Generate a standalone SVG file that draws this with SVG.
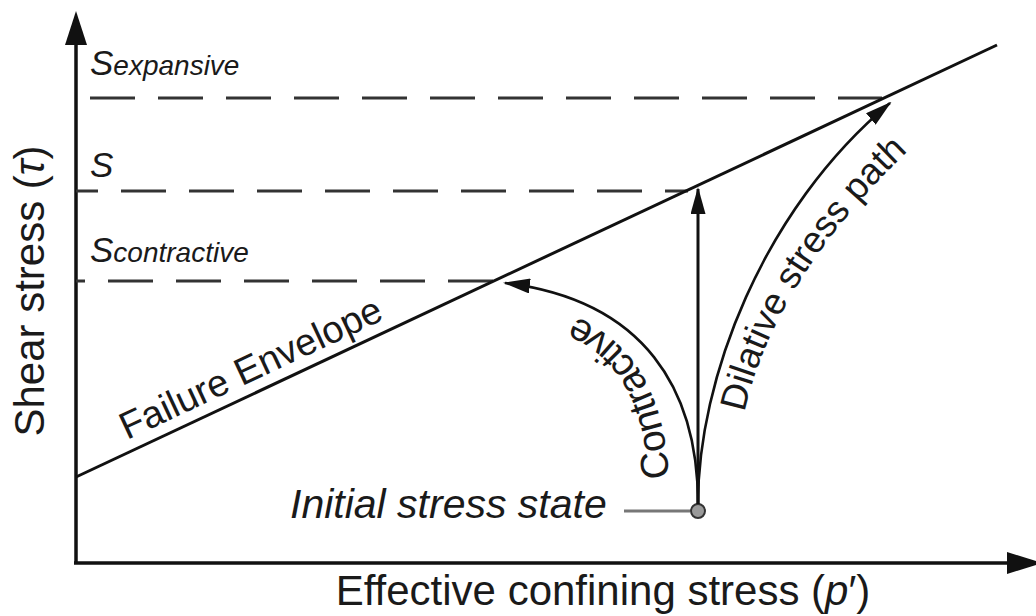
<svg xmlns="http://www.w3.org/2000/svg" width="1036" height="616" viewBox="0 0 1036 616">
<defs>
<style>
.t{font-family:"Liberation Sans",Arial,sans-serif;fill:#1a1a1a}
.it{font-style:italic}
.dash{stroke:#333;stroke-width:3;stroke-dasharray:45 23;fill:none}
.ln{stroke:#111;fill:none}
</style>
<marker id="ah" markerUnits="userSpaceOnUse" viewBox="0 0 27 15" refX="25" refY="7.5" markerWidth="27" markerHeight="15" orient="auto">
<path d="M0,0 L27,7.5 L0,15 z" fill="#111"/>
</marker>
<path id="pc" d="M670,500 C668,400 640,325 530,302"/>
<path id="pd" d="M740,440 C750,350 810,240 920,140"/>
</defs>
<rect width="1036" height="616" fill="#fff"/>
<g id="axes">
<line class="ln" x1="76" y1="40" x2="76" y2="563" stroke-width="3.5"/>
<line class="ln" x1="74" y1="563" x2="1010" y2="563" stroke-width="3.5"/>
<path d="M76,11 L87,45 L65,45 z" fill="#111"/>
<path d="M1042,563 L1007,552 L1007,574 z" fill="#111"/>
<text class="t" font-size="42" transform="translate(44,291) rotate(-90)" text-anchor="middle">Shear stress (<tspan class="it">τ</tspan>)</text>
<text class="t" font-size="42" x="603" y="605" text-anchor="middle">Effective confining stress (<tspan class="it">p</tspan>′)</text>
</g>
<g id="levels">
<line class="dash" x1="90" y1="98" x2="882" y2="98"/>
<line class="dash" x1="76" y1="191" x2="688" y2="191" stroke-dashoffset="23"/>
<line class="dash" x1="76" y1="281" x2="496" y2="281" stroke-dashoffset="36"/>
<text class="t it" x="90" y="75" font-size="35">S<tspan font-size="28">expansive</tspan></text>
<text class="t it" x="90" y="177" font-size="35">S</text>
<text class="t it" x="90" y="262" font-size="35">S<tspan font-size="28">contractive</tspan></text>
</g>
<g id="failure-envelope">
<line class="ln" x1="76" y1="477" x2="997" y2="45" stroke-width="3"/>
<text class="t" font-size="38" transform="translate(127,440) rotate(-25.1)">Failure Envelope</text>
</g>
<g id="initial-state">
<line x1="624" y1="511" x2="690" y2="511" stroke="#777" stroke-width="3"/>
<circle cx="698" cy="511" r="7" fill="#9a9a9a" stroke="#333" stroke-width="2"/>
<text class="t it" x="290" y="518" font-size="41">Initial stress state</text>
</g>
<g id="connectors">
<line class="ln" x1="698" y1="504" x2="698" y2="189" stroke-width="3" marker-end="url(#ah)"/>
<path class="ln" d="M698,504 C698,390 645,300 505,283" stroke-width="2.6" marker-end="url(#ah)"/>
<path class="ln" d="M698,504 C698,380 762,210 890,103" stroke-width="2.6" marker-end="url(#ah)"/>
</g>
<g id="path-labels">
<text class="t" font-size="39"><textPath href="#pc" startOffset="22">Contractive</textPath></text>
<text class="t" font-size="37"><textPath href="#pd" startOffset="28">Dilative stress path</textPath></text>
</g>
</svg>
